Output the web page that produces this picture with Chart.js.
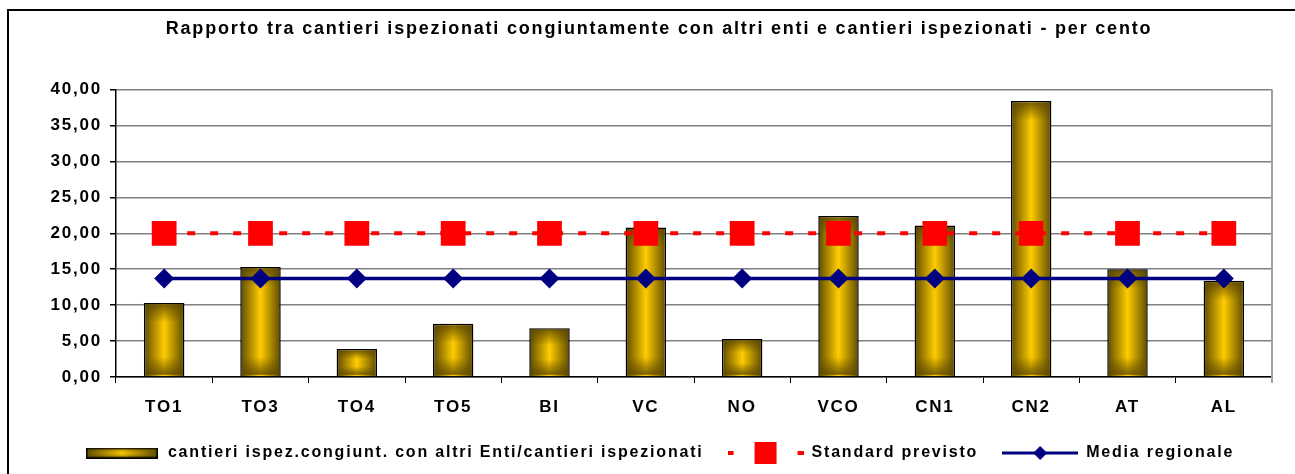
<!DOCTYPE html>
<html>
<head>
<meta charset="utf-8">
<script src="https://cdn.jsdelivr.net/npm/chart.js@4/dist/chart.umd.min.js"></script>
<style>
  html, body { margin: 0; padding: 0; background: #fff; }
  #wrap { width: 1295px; height: 474px; }
</style>
</head>
<body>
<div id="wrap"><canvas id="chart"></canvas></div>
<script>
var categories = ['TO1', 'TO3', 'TO4', 'TO5', 'BI', 'VC', 'NO', 'VCO', 'CN1', 'CN2', 'AT', 'AL'];
var ispezioni = [10.3, 15.3, 3.9, 7.4, 6.8, 20.8, 5.3, 22.4, 21.1, 38.4, 15.0, 13.4];
var standard = [20, 20, 20, 20, 20, 20, 20, 20, 20, 20, 20, 20];
var media = [13.7, 13.7, 13.7, 13.7, 13.7, 13.7, 13.7, 13.7, 13.7, 13.7, 13.7, 13.7];
var seriesNames = [
  'cantieri ispez.congiunt. con altri Enti/cantieri ispezionati',
  'Standard previsto',
  'Media regionale'
];
var chartTitle = 'Rapporto tra cantieri ispezionati congiuntamente con altri enti e cantieri ispezionati - per cento';

var FONT = "'Liberation Sans', Arial, sans-serif";
var GOLD = '#ffcc00';
var OLIVE = '#5e4b00';
var BAR_PCT = 0.42;
var SPACING = '1.8px';

function barGradient(ctx, x0, x1) {
  var g = ctx.createLinearGradient(x0, 0, x1, 0);
  g.addColorStop(0, OLIVE);
  g.addColorStop(0.5, GOLD);
  g.addColorStop(1, OLIVE);
  return g;
}

// legend symbols as small canvases
function makeBarIcon() {
  var c = document.createElement('canvas');
  c.width = 72; c.height = 11;
  var x = c.getContext('2d');
  x.fillStyle = barGradient(x, 0, 72);
  x.fillRect(0, 0, 72, 11);
  var v = x.createLinearGradient(0, 0, 0, 11);
  v.addColorStop(0, 'rgba(90,70,0,0.6)');
  v.addColorStop(0.5, 'rgba(90,70,0,0)');
  v.addColorStop(1, 'rgba(90,70,0,0.6)');
  x.fillStyle = v;
  x.fillRect(0, 0, 72, 11);
  x.strokeStyle = '#000';
  x.lineWidth = 1.5;
  x.strokeRect(0.75, 0.75, 70.5, 9.5);
  return c;
}
function makeStdIcon() {
  var c = document.createElement('canvas');
  c.width = 76; c.height = 22;
  var x = c.getContext('2d');
  x.fillStyle = '#ff0000';
  x.fillRect(0, 9, 6, 4);
  x.fillRect(70, 9, 6, 4);
  x.fillRect(27, 0, 22, 22);
  return c;
}
function makeMediaIcon() {
  var c = document.createElement('canvas');
  c.width = 76; c.height = 16;
  var x = c.getContext('2d');
  x.fillStyle = '#000080';
  x.fillRect(0, 6.5, 76, 3);
  x.beginPath();
  x.moveTo(38, 1); x.lineTo(45, 8); x.lineTo(38, 15); x.lineTo(31, 8);
  x.closePath();
  x.fill();
  return c;
}
var icons = [makeBarIcon(), makeStdIcon(), makeMediaIcon()];

var spacingPlugin = {
  id: 'spacing',
  beforeUpdate: function (chart) { chart.ctx.letterSpacing = SPACING; },
  beforeLayout: function (chart) { chart.ctx.letterSpacing = SPACING; },
  beforeDraw: function (chart) {
    var ctx = chart.ctx;
    ctx.letterSpacing = SPACING;
    // outer frame
    ctx.save();
    ctx.strokeStyle = '#000';
    ctx.lineWidth = 2;
    ctx.beginPath();
    ctx.moveTo(8, chart.height);
    ctx.lineTo(8, 10);
    ctx.lineTo(chart.width, 10);
    ctx.stroke();
    ctx.restore();
  },
  afterDatasetDraw: function (chart, args) {
    if (args.index !== 0) return;
    var ctx = chart.ctx;
    ctx.save();
    args.meta.data.forEach(function (bar) {
      var left = bar.x - bar.width / 2 + 1.5, right = bar.x + bar.width / 2 - 1.5;
      var top = bar.y + 1.5, bottom = bar.base - 1.5;
      var h = bottom - top;
      if (h <= 0) return;
      var v = ctx.createLinearGradient(0, top, 0, bottom);
      var edge = Math.min(0.35, 18 / h);
      v.addColorStop(0, 'rgba(90,70,0,0.8)');
      v.addColorStop(edge, 'rgba(90,70,0,0)');
      v.addColorStop(1 - edge, 'rgba(90,70,0,0)');
      v.addColorStop(1, 'rgba(90,70,0,0.8)');
      ctx.fillStyle = v;
      ctx.fillRect(left, top, right - left, h);
    });
    ctx.restore();
  },
  afterDraw: function (chart) {
    var a = chart.chartArea, ctx = chart.ctx;
    ctx.save();
    ctx.strokeStyle = '#a0a0a0';
    ctx.lineWidth = 2;
    ctx.beginPath();
    ctx.moveTo(a.right, a.top);
    ctx.lineTo(a.right, a.bottom + 6);
    ctx.stroke();
    ctx.restore();
  }
};

var ctx = document.getElementById('chart').getContext('2d');
var chart = new Chart(ctx, {
  type: 'bar',
  data: {
    labels: categories,
    datasets: [
      {
        type: 'bar',
        label: seriesNames[0],
        data: ispezioni,
        order: 2,
        backgroundColor: function (c) {
          var xs = c.chart.scales.x;
          if (!xs || c.type !== 'data') return GOLD;
          var cx = xs.getPixelForValue(c.dataIndex);
          var w = xs.width / categories.length * BAR_PCT;
          return barGradient(c.chart.ctx, cx - w / 2, cx + w / 2);
        },
        borderColor: '#000',
        borderWidth: 1.5,
        barPercentage: BAR_PCT,
        categoryPercentage: 1
      },
      {
        type: 'line',
        label: seriesNames[1],
        data: standard,
        order: 1,
        borderColor: '#ff0000',
        borderWidth: 4,
        borderDash: [8, 15],
        pointStyle: 'rect',
        pointRadius: 17.5,
        pointBorderWidth: 0,
        pointBackgroundColor: '#ff0000',
        fill: false
      },
      {
        type: 'line',
        label: seriesNames[2],
        data: media,
        order: 0,
        borderColor: '#000080',
        borderWidth: 3.5,
        pointStyle: 'rectRot',
        pointRadius: 10,
        pointBorderWidth: 0,
        pointBackgroundColor: '#000080',
        fill: false
      }
    ]
  },
  options: {
    responsive: true,
    maintainAspectRatio: false,
    animation: false,
    events: [],
    layout: { padding: { left: 46, right: 23, top: 0, bottom: 3 } },
    plugins: {
      tooltip: { enabled: false },
      title: {
        display: true,
        text: chartTitle,
        color: '#000',
        font: { family: FONT, size: 18, weight: 'bold' },
        padding: { top: 18, bottom: 50 }
      },
      legend: {
        position: 'bottom',
        labels: {
          color: '#000',
          font: { family: FONT, size: 16, weight: 'bold' },
          usePointStyle: true,
          pointStyleWidth: 76,
          padding: 24,
          generateLabels: function (ch) {
            return ch.data.datasets.map(function (ds, i) {
              return {
                text: ds.label,
                pointStyle: icons[i],
                fillStyle: 'transparent',
                strokeStyle: 'transparent',
                lineWidth: 0,
                fontColor: '#000',
                datasetIndex: i
              };
            });
          }
        }
      }
    },
    scales: {
      x: {
        afterFit: function (s) { s.height = 44; },
        grid: {
          display: true,
          drawOnChartArea: false,
          tickLength: 6,
          tickColor: '#000',
          offset: true
        },
        border: { color: '#000', width: 1.5 },
        ticks: {
          color: '#000',
          padding: 14,
          font: { family: FONT, size: 17, weight: 'bold' }
        }
      },
      y: {
        min: 0,
        max: 40,
        afterFit: function (s) { s.width = 70; },
        ticks: {
          stepSize: 5,
          color: '#000',
          padding: 8,
          font: { family: FONT, size: 17, weight: 'bold' },
          callback: function (v) { return Number(v).toFixed(2).replace('.', ','); }
        },
        grid: { color: '#808080', lineWidth: 1.5, tickLength: 6, tickColor: '#000' },
        border: { color: '#000', width: 1.5 }
      }
    }
  },
  plugins: [spacingPlugin]
});
</script>
</body>
</html>
